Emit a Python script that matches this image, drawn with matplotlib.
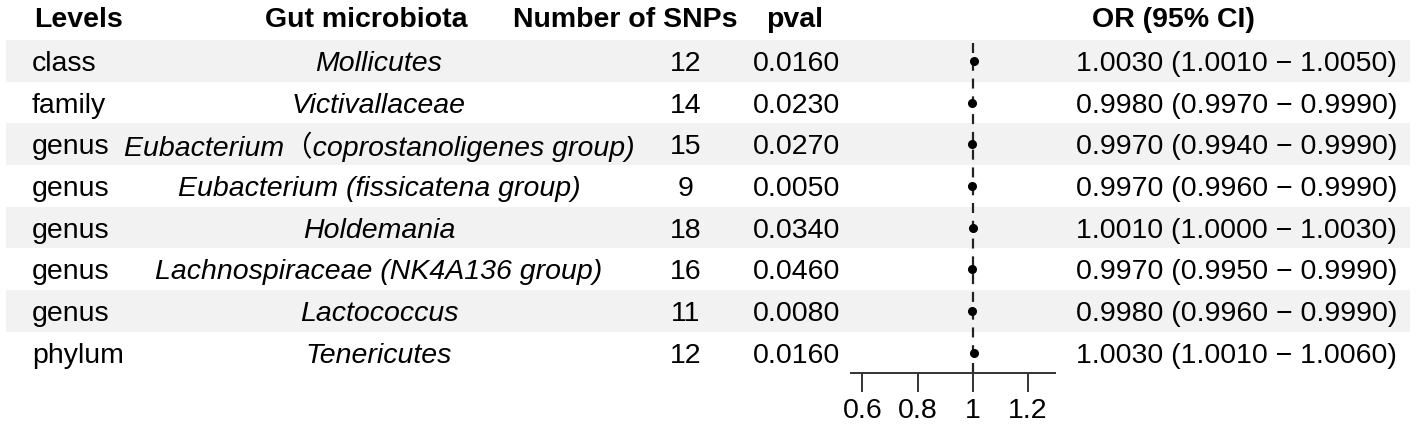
import matplotlib
matplotlib.use("Agg")
import matplotlib.pyplot as plt

plt.rcParams['font.family'] = ['Liberation Sans', 'Noto Sans CJK SC', 'DejaVu Sans']

# ---- data ----
headers = ["Levels", "Gut microbiota", "Number of SNPs", "pval", "OR (95% CI)"]
levels = ["class", "family", "genus", "genus", "genus", "genus", "genus", "phylum"]
taxa = ["Mollicutes", "Victivallaceae", "Eubacterium\uff08coprostanoligenes group)",
        "Eubacterium (fissicatena group)", "Holdemania",
        "Lachnospiraceae (NK4A136 group)", "Lactococcus", "Tenericutes"]
n_snps = [12, 14, 15, 9, 18, 16, 11, 12]
pvals = [0.0160, 0.0230, 0.0270, 0.0050, 0.0340, 0.0460, 0.0080, 0.0160]
or_est = [1.0030, 0.9980, 0.9970, 0.9970, 1.0010, 0.9970, 0.9980, 1.0030]
or_lo = [1.0010, 0.9970, 0.9940, 0.9960, 1.0000, 0.9950, 0.9960, 1.0010]
or_hi = [1.0050, 0.9990, 0.9990, 0.9990, 1.0030, 0.9990, 0.9990, 1.0060]
x_ticks = [0.6, 0.8, 1.0, 1.2]
x_tick_labels = ["0.6", "0.8", "1", "1.2"]

# ---- layout (pixels) ----
W, H = 1416, 426
FS = 20.5
top = 40.0
row_h = 41.67
n = len(levels)
rows_y = [top + row_h * (i + 0.5) for i in range(n)]
head_y = 20
dy = 3  # text baseline nudge

fig = plt.figure(figsize=(W / 100, H / 100), dpi=100)
ax = fig.add_axes([0, 0, 1, 1])
ax.set_xlim(0, W)
ax.set_ylim(H, 0)
ax.axis("off")

# alternating bands
band_rows = [y for i, y in enumerate(rows_y) if i % 2 == 0]
ax.barh(band_rows, width=1404, left=6, height=row_h, color="#F2F2F2", zorder=0)

# headers
hx = [34, 366, 625, 795, 1092]
ha_h = ["left", "center", "center", "center", "left"]
for t, x, ha in zip(headers, hx, ha_h):
    ax.text(x, head_y, t, fontsize=FS, fontweight="bold", ha=ha, va="center")

for i, y in enumerate(rows_y):
    ax.text(32, y + dy, levels[i], fontsize=FS, ha="left", va="center")
    ax.text(379, y + dy, taxa[i], fontsize=FS, ha="center", va="center", style="italic")
    ax.text(686, y + dy, str(n_snps[i]), fontsize=FS, ha="center", va="center")
    ax.text(797, y + dy, f"{pvals[i]:.4f}", fontsize=FS, ha="center", va="center")
    ax.text(1076, y + dy, f"{or_est[i]:.4f} ({or_lo[i]:.4f} \u2212 {or_hi[i]:.4f})",
            fontsize=FS, ha="left", va="center")

# forest panel
fx0, fx1 = 851, 1055
fy_top, fy_bot = top, top + row_h * n
fax = fig.add_axes([fx0 / W, (H - fy_bot) / H, (fx1 - fx0) / W, (fy_bot - fy_top) / H])
fax.patch.set_alpha(0)
fax.set_xlim(0.5585, 1.2985)
fax.set_ylim(n, 0)
ys = [i + 0.5 for i in range(n)]
fax.axvline(1.0, color="#222222", lw=1.6, ls=(0, (4.5, 3.5)), ymax=0.995, zorder=1)
for i in range(n):
    fax.plot([or_lo[i], or_hi[i]], [ys[i], ys[i]], color="black", lw=1.6, zorder=2)
fax.plot(or_est, ys, ls="none", marker="o", ms=5.5, color="black", zorder=3)
for s in ["top", "left", "right"]:
    fax.spines[s].set_visible(False)
fax.spines["bottom"].set_color("#333333")
fax.spines["bottom"].set_linewidth(1.4)
fax.set_yticks([])
fax.set_xticks(x_ticks)
fax.set_xticklabels(x_tick_labels, fontsize=FS)
fax.tick_params(axis="x", direction="out", length=13.5, width=1.4, color="#333333", pad=4)

fig.savefig("out.png", dpi=100)
